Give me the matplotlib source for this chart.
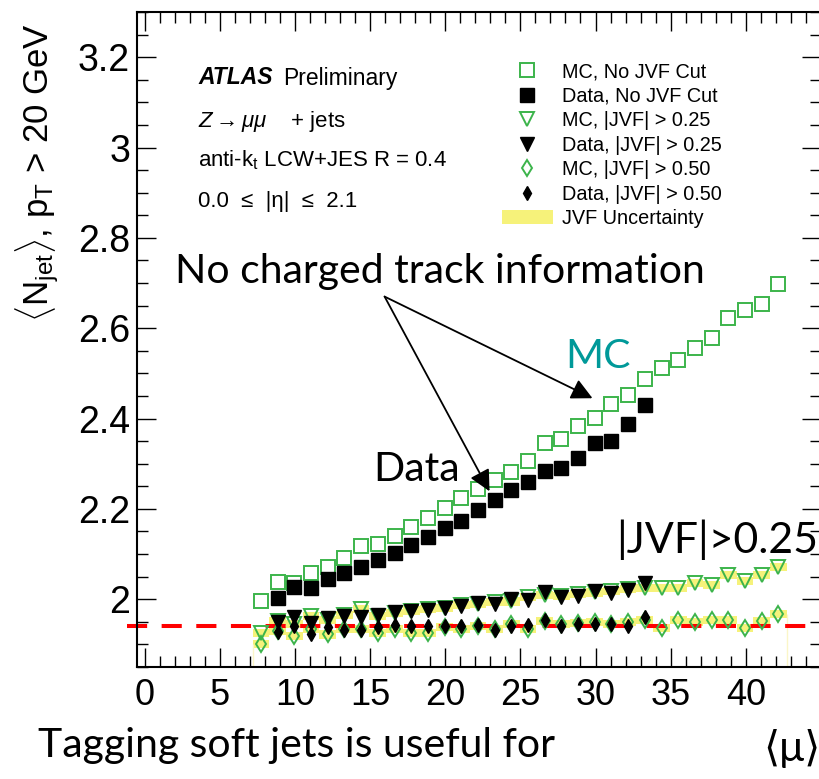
import matplotlib
matplotlib.use("Agg")
import numpy as np
import matplotlib.pyplot as plt
from matplotlib.lines import Line2D
from matplotlib.patches import Patch
from matplotlib.ticker import MultipleLocator, FuncFormatter

# <mu> bin centres (MC covers all bins, data stops at 33)
mu = [7.75, 8.86, 9.97, 11.08, 12.19, 13.30, 14.41, 15.52, 16.63, 17.74,
      18.85, 19.96, 21.07, 22.18, 23.29, 24.40, 25.51, 26.62, 27.73, 28.84,
      29.95, 31.06, 32.17, 33.28, 34.39, 35.50, 36.61, 37.72, 38.83, 39.94,
      41.05, 42.16]
mu_data = mu[1:24]
bin_half = 0.555

mc_nocut = [1.995, 2.038, 2.035, 2.058, 2.071, 2.092, 2.117, 2.123, 2.141, 2.159,
            2.180, 2.201, 2.225, 2.245, 2.263, 2.281, 2.306, 2.346, 2.354, 2.383,
            2.401, 2.432, 2.453, 2.488, 2.512, 2.530, 2.556, 2.578, 2.622, 2.640,
            2.653, 2.698]
data_nocut = [2.003, 2.026, 2.025, 2.044, 2.057, 2.072, 2.086, 2.102, 2.121, 2.138,
              2.158, 2.173, 2.197, 2.220, 2.241, 2.259, 2.283, 2.291, 2.312, 2.346,
              2.351, 2.389, 2.431]

mc_jvf25 = [1.925, 1.952, 1.945, 1.962, 1.955, 1.966, 1.978, 1.962, 1.970, 1.975,
            1.978, 1.980, 1.988, 1.990, 1.993, 1.995, 2.005, 2.010, 2.008, 2.012,
            2.015, 2.018, 2.022, 2.025, 2.024, 2.024, 2.035, 2.031, 2.053, 2.040,
            2.053, 2.071]
data_jvf25 = [1.950, 1.960, 1.948, 1.958, 1.962, 1.960, 1.966, 1.972, 1.974, 1.976,
              1.981, 1.985, 1.991, 1.990, 2.000, 1.998, 2.016, 2.004, 2.007, 2.018,
              2.014, 2.021, 2.036]

mc_jvf50 = [1.900, 1.930, 1.918, 1.935, 1.922, 1.935, 1.935, 1.925, 1.935, 1.925,
            1.925, 1.938, 1.935, 1.940, 1.935, 1.945, 1.934, 1.952, 1.945, 1.948,
            1.950, 1.945, 1.950, 1.955, 1.937, 1.954, 1.950, 1.954, 1.955, 1.937,
            1.952, 1.968]
data_jvf50 = [1.928, 1.940, 1.924, 1.938, 1.931, 1.932, 1.938, 1.943, 1.940, 1.940,
              1.940, 1.940, 1.943, 1.932, 1.940, 1.943, 1.955, 1.940, 1.945, 1.946,
              1.945, 1.940, 1.961]

jvf_unc = 0.009
ref_level = 1.94

green = "#3cb44b"
band_col = "#f6f27a"
teal = "#009999"
root_font = ["Liberation Sans", "DejaVu Sans"]
slide_font = ["Lato", "DejaVu Sans"]

plt.rcParams["font.family"] = root_font
plt.rcParams["mathtext.fontset"] = "custom"
plt.rcParams["mathtext.rm"] = "Liberation Sans"
plt.rcParams["mathtext.it"] = "Liberation Sans:italic"

W, H = 820, 779
fig = plt.figure(figsize=(W / 100, H / 100), dpi=100)


def fx(x):
    return x / W


def fy(y):
    return 1 - y / H


ax = fig.add_axes([fx(137), fy(667), fx(821) - fx(137), fy(12) - fy(667)])
ax.set_xlim(-0.5, 45)
ax.set_ylim(1.85, 3.30)


def step_band(x, y, half):
    xs = np.ravel([[xi - bin_half, xi + bin_half] for xi in x])
    lo = np.repeat(np.array(y) - half, 2)
    hi = np.repeat(np.array(y) + half, 2)
    return xs, lo, hi


for series in (mc_jvf25, mc_jvf50):
    xs, lo, hi = step_band(mu, series, jvf_unc)
    ax.fill_between(xs, lo, hi, color=band_col, lw=0, zorder=1)
ax.vlines([mu[0] - bin_half, mu[-1] + bin_half], 1.85, [mc_jvf50[0], mc_jvf50[-1]],
          color="#fbf6c8", lw=1, zorder=1)

ax.axhline(ref_level, xmin=-0.0146, xmax=1.0, color="red", lw=2.9,
           linestyle=(0, (5.0, 3.6)), clip_on=False, zorder=2)

open_kw = dict(linestyle="none", markerfacecolor="none", markeredgecolor=green,
               markeredgewidth=1.4)
ax.plot(mu, mc_jvf25, marker="v", markersize=10, zorder=3, **open_kw)
ax.plot(mu, mc_jvf50, marker="d", markersize=8, zorder=3, **open_kw)
ax.plot(mu, mc_nocut, marker="s", markersize=10.5, zorder=3, **open_kw)
ax.plot(mu_data, data_jvf25, "kv", markersize=10, zorder=4)
ax.plot(mu_data, data_jvf50, "kd", markersize=7, zorder=4)
ax.plot(mu_data, data_nocut, "ks", markersize=10.5, zorder=4)

ax.xaxis.set_minor_locator(MultipleLocator(1))
ax.yaxis.set_major_locator(MultipleLocator(0.2))
ax.yaxis.set_minor_locator(MultipleLocator(0.05))
ax.set_xticks([0, 5, 10, 15, 20, 25, 30, 35, 40])
ax.yaxis.set_major_formatter(FuncFormatter(lambda v, p: f"{v:g}"))
ax.tick_params(which="both", direction="in", top=True, right=True, width=1,
               labelsize=26)
ax.tick_params(axis="y", labelsize=27)
ax.tick_params(which="major", length=14)
ax.tick_params(which="minor", length=8)
ax.tick_params(axis="x", pad=8)
ax.tick_params(axis="y", pad=5)
for sp in ax.spines.values():
    sp.set_linewidth(1.5)

fig.text(fx(37), fy(173), r"$\langle\mathrm{N}_{\mathrm{jet}}\rangle$, $\mathrm{p}_{\mathrm{T}}$ > 20 GeV",
         rotation=90, ha="center", va="center", fontsize=25)

# ATLAS label block
fig.text(fx(198), fy(78), "ATLAS", fontsize=16.5, fontweight="bold", fontstyle="italic",
         va="center")
fig.text(fx(283), fy(78), "Preliminary", fontsize=16.5, va="center")
fig.text(fx(198), fy(122), r"$Z \rightarrow \mu\mu$    + jets", fontsize=16, va="center")
fig.text(fx(198), fy(160), r"anti-k$_{\mathrm{t}}$ LCW+JES R = 0.4", fontsize=16, va="center")
fig.text(fx(198), fy(202), "0.0  ≤  |η|  ≤  2.1", fontsize=16, va="center")

handles = [
    Line2D([], [], marker="s", markersize=10.5, **open_kw),
    Line2D([], [], color="k", marker="s", markersize=10.5, linestyle="none"),
    Line2D([], [], marker="v", markersize=10, **open_kw),
    Line2D([], [], color="k", marker="v", markersize=10, linestyle="none"),
    Line2D([], [], marker="d", markersize=8, **open_kw),
    Line2D([], [], color="k", marker="d", markersize=7, linestyle="none"),
    Patch(facecolor=band_col, edgecolor="none"),
]
labels = ["MC, No JVF Cut", "Data, No JVF Cut", "MC, |JVF| > 0.25", "Data, |JVF| > 0.25",
          "MC, |JVF| > 0.50", "Data, |JVF| > 0.50", "JVF Uncertainty"]
ax.legend(handles, labels, loc="upper left", bbox_to_anchor=(fx(502), fy(62)),
          bbox_transform=fig.transFigure, frameon=False, fontsize=14.3, numpoints=1,
          handlelength=2.55, handletextpad=0.45, labelspacing=0.28, borderpad=0,
          borderaxespad=0)

# slide annotations
fig.text(fx(175), fy(283), "No charged track information", fontsize=29.5,
         family=slide_font, va="baseline")
fig.text(fx(565), fy(368), "MC", fontsize=29.5, color=teal, family=slide_font, va="baseline")
fig.text(fx(373), fy(481), "Data", fontsize=29.5, family=slide_font, va="baseline")
fig.text(fx(616), fy(553), "|JVF|>0.25", fontsize=30.8, family=slide_font, va="baseline")
fig.text(fx(38), fy(757), "Tagging soft jets is useful for", fontsize=29.5,
         family=slide_font, va="baseline")
fig.text(fx(821), fy(748), "⟨μ⟩", fontsize=30, ha="right", va="center",
         family=slide_font)

arrow_kw = dict(arrowstyle="-|>", mutation_scale=32, lw=1.3, color="black",
                shrinkA=0, shrinkB=0)
ax.annotate("", xy=(29.8, 2.445), xytext=(15.97, 2.67), arrowprops=arrow_kw,
            annotation_clip=False)
ax.annotate("", xy=(22.95, 2.239), xytext=(15.97, 2.67), arrowprops=arrow_kw,
            annotation_clip=False)

fig.savefig("out.png", dpi=100)
